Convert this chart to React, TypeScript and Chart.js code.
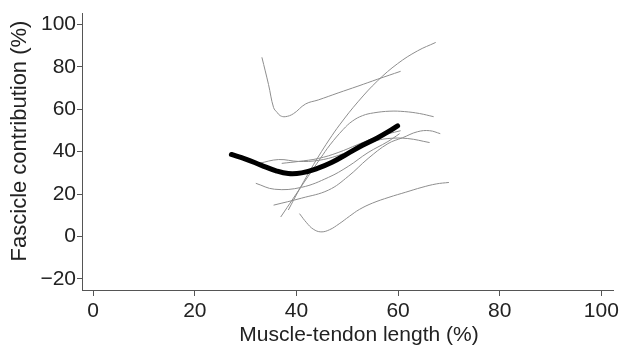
import React, { useEffect, useRef } from 'react';
import { Chart, registerables } from 'chart.js';

Chart.register(...registerables);

const xTitle = 'Muscle-tendon length (%)';
const yTitle = 'Fascicle contribution (%)';
const xTicks = [0, 20, 40, 60, 80, 100];
const yTicks = [-20, 0, 20, 40, 60, 80, 100];

// Mean curve (thick black)
const meanX = [27.2, 30, 33, 36, 38.4, 41, 44, 47, 50, 53, 56, 58, 59.9];
const meanY = [38.7, 36.5, 33.7, 31.0, 29.7, 30.0, 32.0, 35.0, 39.0, 43.0, 46.6, 49.3, 52.2];

// Individual curves (thin grey)
const c1X = [33.2, 34.5, 35.5, 36.2, 36.8, 37.8, 39.4, 41.8, 44.3, 48.2, 52.1, 56.0, 60.5];
const c1Y = [84.5, 71.7, 60.8, 58.5, 57.0, 56.5, 57.9, 62.5, 64.4, 67.7, 70.9, 74.2, 77.9];
const c2X = [40.6, 42.0, 43.3, 44.8, 46.5, 48.4, 50.4, 52.4, 55.0, 58.2, 61.5, 64.7, 67.5, 70.0];
const c2Y = [10.8, 6.5, 3.5, 2.2, 3.2, 6.0, 9.5, 12.8, 15.8, 18.5, 20.9, 23.2, 24.8, 25.5];
const c3X = [38.4, 40.4, 42.4, 44.4, 46.4, 48.6, 52.1, 56.0, 59.9, 63.8, 67.4];
const c3Y = [12.5, 21.5, 30.0, 38.0, 45.5, 53.0, 63.5, 73.5, 81.5, 87.5, 91.5];
const c4X = [36.9, 39.4, 42.3, 44.7, 46.6, 49.2, 51.0, 53.0, 55.2, 58.4, 61.3, 64.2, 67.0];
const c4Y = [9.2, 18.1, 28.4, 36.8, 43.2, 50.5, 54.4, 57.0, 58.3, 59.1, 58.9, 58.0, 56.5];
const c5X = [32.0, 35.7, 41.0, 46.3, 50.2, 54.1, 58.0, 60.3];
const c5Y = [25.1, 22.3, 23.2, 27.9, 33.1, 39.6, 44.8, 48.5];
const c6X = [35.5, 41.0, 46.3, 50.2, 54.1, 58.0, 60.9, 63.8, 66.2, 68.3];
const c6Y = [14.8, 18.1, 21.9, 28.4, 36.8, 43.8, 46.6, 49.4, 49.9, 48.5];
const c7X = [32.6, 36.5, 40.4, 44.3, 48.2, 52.1, 55.1, 58.0, 61.9, 66.2];
const c7Y = [34.5, 36.3, 35.4, 35.9, 38.2, 42.0, 44.8, 46.2, 46.2, 44.3];
const c8X = [37.1, 40.4, 44.3, 48.2, 52.1, 56.0, 60.5];
const c8Y = [34.5, 35.4, 36.8, 39.6, 43.4, 47.1, 49.9];

const FONT = '"Liberation Sans", Arial, Helvetica, sans-serif';
const TEXT = '#222222';
const AXIS = '#555555';

export default function App() {
  const ref = useRef<HTMLCanvasElement>(null);

  useEffect(() => {
    if (!ref.current) return;
    const pts = (xs: number[], ys: number[]) => xs.map((x, i) => ({ x, y: ys[i] }));
    const thinSets = [
      [c1X, c1Y], [c2X, c2Y], [c3X, c3Y], [c4X, c4Y],
      [c5X, c5Y], [c6X, c6Y], [c7X, c7Y], [c8X, c8Y],
    ].map(([xs, ys]) => ({
      data: pts(xs, ys),
      borderColor: '#8e8e8e',
      borderWidth: 1,
      pointRadius: 0,
      fill: false,
      tension: 0.4,
    }));
    const meanSet = {
      data: pts(meanX, meanY),
      borderColor: '#000000',
      borderWidth: 5,
      borderCapStyle: 'round' as const,
      borderJoinStyle: 'round' as const,
      pointRadius: 0,
      fill: false,
      tension: 0.4,
    };

    const titlePlugin = {
      id: 'axisTitles',
      afterDraw(chart: any) {
        const ctx = chart.ctx;
        ctx.save();
        ctx.fillStyle = TEXT;
        ctx.textAlign = 'center';
        ctx.textBaseline = 'alphabetic';
        ctx.font = `21px ${FONT}`;
        ctx.fillText(xTitle, 359, 341);
        ctx.translate(26, 141);
        ctx.rotate(-Math.PI / 2);
        ctx.font = `22px ${FONT}`;
        ctx.fillText(yTitle, 0, 0);
        ctx.restore();
      },
    };

    const chart = new Chart(ref.current, {
      type: 'line',
      data: { datasets: [meanSet, ...thinSets] as any },
      options: {
        animation: false,
        responsive: true,
        maintainAspectRatio: false,
        layout: { padding: { top: 12, right: 5, left: 0, bottom: 0 } },
        plugins: { legend: { display: false }, tooltip: { enabled: false } },
        scales: {
          x: {
            type: 'linear',
            min: -2.2,
            max: 102.4,
            afterBuildTicks: (s: any) => { s.ticks = xTicks.map((v) => ({ value: v })); },
            afterFit: (s: any) => { s.height = 56; },
            ticks: { font: { family: FONT, size: 21 }, color: TEXT, padding: 3, maxRotation: 0, autoSkip: false },
            grid: { drawOnChartArea: false, drawTicks: true, tickLength: 6, color: AXIS },
            border: { display: true, color: AXIS, width: 1 },
          },
          y: {
            type: 'linear',
            min: -25.2,
            max: 105.1,
            afterBuildTicks: (s: any) => { s.ticks = yTicks.map((v) => ({ value: v })); },
            afterFit: (s: any) => { s.width = 82; },
            ticks: {
              font: { family: FONT, size: 21 }, color: TEXT, padding: 1, autoSkip: false,
              callback: (v: any) => (Number(v) < 0 ? '\u2212' + Math.abs(Number(v)) : String(v)),
            },
            grid: { drawOnChartArea: false, drawTicks: true, tickLength: 5, color: AXIS },
            border: { display: true, color: AXIS, width: 1 },
          },
        },
      },
      plugins: [titlePlugin],
    });
    return () => chart.destroy();
  }, []);

  return (
    <div style={{ position: 'absolute', left: 0, top: 0, width: 622, height: 346, background: '#fff' }}>
      <canvas ref={ref} />
    </div>
  );
}
